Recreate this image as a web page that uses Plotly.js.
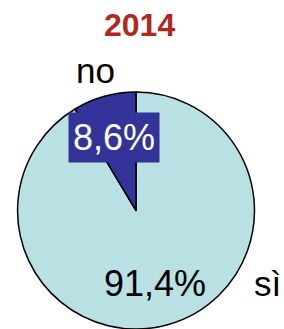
<!DOCTYPE html>
<html>
<head>
<meta charset="utf-8">
<script src="https://cdn.plot.ly/plotly-3.0.1.min.js"></script>
<style>html,body{margin:0;padding:0;background:#fff;}#chart{width:284px;height:329px;}</style>
</head>
<body>
<div id="chart"></div>
<script>
var categories = ['sì', 'no'];
var values = [91.4, 8.6];
var sliceColors = ['#B9E0E3', '#333399'];
var titleText = '2014';

function fmt(v) { return v.toFixed(1).replace('.', ',') + '%'; }

var trace = {
  type: 'pie',
  labels: categories,
  values: values,
  sort: false,
  direction: 'clockwise',
  rotation: 0,
  textinfo: 'none',
  hoverinfo: 'none',
  showlegend: false,
  marker: { colors: sliceColors, line: { color: '#000000', width: 1.5 } },
  domain: { x: [0.053, 0.905], y: [0.0, 0.72] }
};

var FONT = 'Liberation Sans, Arial, sans-serif';
var annotations = [
  { text: fmt(values[1]), x: 0.403, y: 0.581, xref: 'paper', yref: 'paper', showarrow: false,
    xanchor: 'center', yanchor: 'middle', bgcolor: sliceColors[1], borderpad: 4,
    font: { family: FONT, size: 36, color: '#ffffff' } },
  { text: fmt(values[0]), x: 0.546, y: 0.137, xref: 'paper', yref: 'paper', showarrow: false,
    xanchor: 'center', yanchor: 'middle',
    font: { family: FONT, size: 36, color: '#000000' } },
  { text: categories[1], x: 0.338, y: 0.787, xref: 'paper', yref: 'paper', showarrow: false,
    xanchor: 'center', yanchor: 'middle',
    font: { family: FONT, size: 35, color: '#000000' } },
  { text: categories[0], x: 0.942, y: 0.138, xref: 'paper', yref: 'paper', showarrow: false,
    xanchor: 'center', yanchor: 'middle',
    font: { family: FONT, size: 35, color: '#000000' } },
  { text: '<b>' + titleText + '</b>', x: 139 / 284, y: 1 - 25 / 329, xref: 'paper', yref: 'paper', showarrow: false,
    xanchor: 'center', yanchor: 'middle',
    font: { family: FONT, size: 32, color: '#B0281E' } }
];

var layout = {
  width: 284, height: 329,
  margin: { l: 0, r: 0, t: 0, b: 0 },
  paper_bgcolor: '#ffffff',
  annotations: annotations
};

Plotly.newPlot('chart', [trace], layout, { displayModeBar: false, staticPlot: true });
</script>
</body>
</html>
